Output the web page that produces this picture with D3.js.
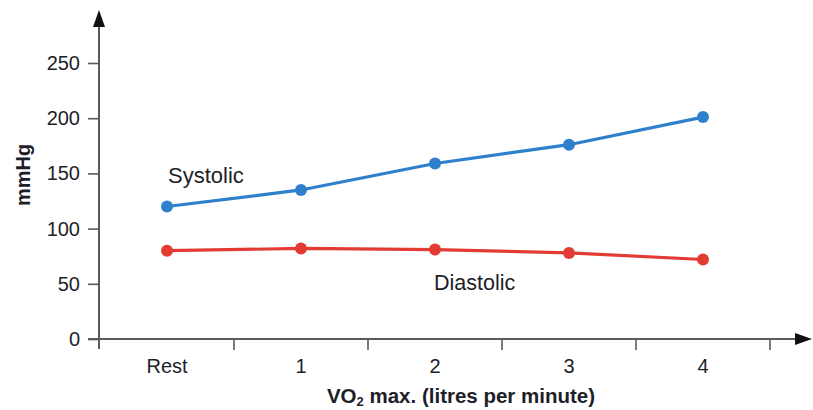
<!DOCTYPE html>
<html><head><meta charset="utf-8">
<script src="https://cdn.jsdelivr.net/npm/d3@7"></script>
<style>body{margin:0;background:#fff}svg{display:block;font-family:"Liberation Sans",Arial,sans-serif}</style>
</head><body><svg id="c" width="813" height="410"></svg>
<script>
const categories = ["Rest","1","2","3","4"];
const systolic = [120,135,159,176,201];
const diastolic = [80,82,81,78,72];
const yTicks = [0,50,100,150,200,250];

const svg = d3.select("#c");
const x = d3.scaleBand().domain(categories).range([100,770]);
const y = d3.scaleLinear().domain([0,250]).range([339,63]);
const axisCol = "#5a5a5a";
const textCol = "#1e1e28";

// y axis
const ya = svg.append("g").attr("transform","translate(99,0)")
  .call(d3.axisLeft(y).tickValues(yTicks).tickSize(11).tickPadding(8));
ya.select(".domain").remove();
ya.selectAll("line").attr("stroke",axisCol).attr("stroke-width",1.6);
ya.selectAll("text").attr("font-size",20).attr("fill",textCol);
svg.append("line").attr("x1",99).attr("x2",99).attr("y1",349).attr("y2",26)
  .attr("stroke",axisCol).attr("stroke-width",2);
svg.append("path").attr("d","M99,10L105,27L93,27Z").attr("fill","#111");

// x axis
const xa = svg.append("g").attr("transform","translate(0,339)")
  .call(d3.axisBottom(x).tickSize(0).tickPadding(22));
xa.select(".domain").remove();
xa.selectAll("text").attr("font-size",20).attr("fill",textCol).attr("dy","0.6em");
const bounds = categories.map(c => x(c) + x.bandwidth());
svg.selectAll(".xt").data(bounds).enter().append("line")
  .attr("x1",d=>d).attr("x2",d=>d).attr("y1",339).attr("y2",350)
  .attr("stroke",axisCol).attr("stroke-width",1.6);
svg.append("line").attr("x1",88).attr("x2",796).attr("y1",339).attr("y2",339)
  .attr("stroke",axisCol).attr("stroke-width",2);
svg.append("path").attr("d","M812,339L795,333L795,345Z").attr("fill","#111");

const cx = c => x(c) + x.bandwidth()/2;
const line = d3.line().x((d,i)=>cx(categories[i])).y(d=>y(d));
[[systolic,"#2e80cc"],[diastolic,"#e23b34"]].forEach(([vals,col])=>{
  svg.append("path").attr("d",line(vals)).attr("fill","none").attr("stroke",col).attr("stroke-width",3.2);
  svg.selectAll(null).data(vals).enter().append("circle")
    .attr("cx",(d,i)=>cx(categories[i])).attr("cy",d=>y(d)).attr("r",6).attr("fill",col);
});

svg.append("text").attr("x",168).attr("y",183).attr("font-size",22).attr("fill",textCol).text("Systolic");
svg.append("text").attr("x",434).attr("y",290).attr("font-size",21.5).attr("fill",textCol).text("Diastolic");

svg.append("text").attr("transform","translate(30,175) rotate(-90)").attr("text-anchor","middle")
  .attr("font-size",20).attr("font-weight","bold").attr("fill",textCol).text("mmHg");
const xl = svg.append("text").attr("x",461).attr("y",403).attr("text-anchor","middle")
  .attr("font-size",20.5).attr("font-weight","bold").attr("fill",textCol);
xl.append("tspan").text("VO");
xl.append("tspan").attr("font-size",13).attr("dy",3).text("2");
xl.append("tspan").attr("dy",-3).text(" max. (litres per minute)");
</script></body></html>
